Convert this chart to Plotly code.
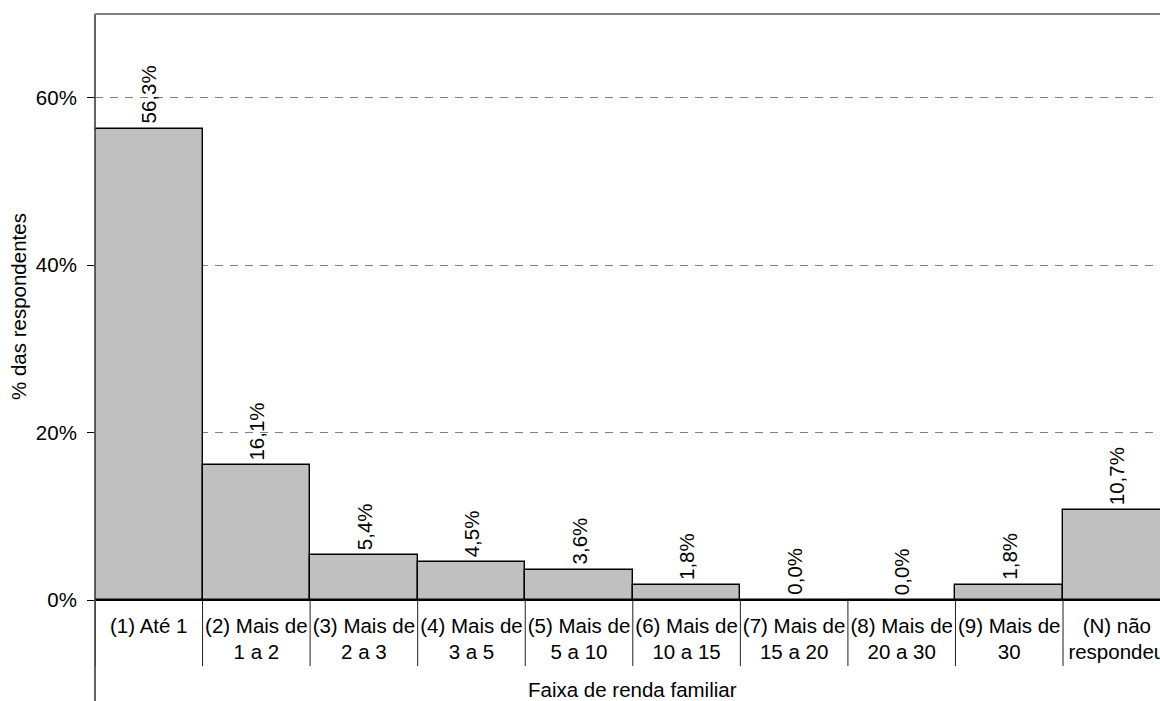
import plotly.graph_objects as go

# Family income brackets and share of respondents (%)
categories = [
    "(1) Até 1",
    "(2) Mais de<br>1 a 2",
    "(3) Mais de<br>2 a 3",
    "(4) Mais de<br>3 a 5",
    "(5) Mais de<br>5 a 10",
    "(6) Mais de<br>10 a 15",
    "(7) Mais de<br>15 a 20",
    "(8) Mais de<br>20 a 30",
    "(9) Mais de<br>30",
    "(N) não<br>respondeu",
]
shares = [56.3, 16.1, 5.4, 4.5, 3.6, 1.8, 0.0, 0.0, 1.8, 10.7]
y_ticks = [0, 20, 40, 60]
y_tick_text = ["0%", "20%", "40%", "60%"]

FONT = "Liberation Sans, Arial, sans-serif"
FS = 20.5
W, H = 1160, 701
ML, MT, MB = 95, 14, 101
plot_h = H - MT - MB
xpos = list(range(len(categories)))
step = 107.56  # pixel width of one category
x_hi = -0.5 + (W - ML) / step

fig = go.Figure(
    go.Bar(
        x=xpos,
        y=shares,
        marker=dict(color="#C0C0C0", line=dict(color="#000000", width=1.4)),
        width=1.0,
        hoverinfo="skip",
    )
)

# Rotated value labels above each bar
for xi, v in zip(xpos, shares):
    fig.add_annotation(
        x=xi, y=v, xref="x", yref="y",
        text=f"{v:.1f}%".replace(".", ","),
        textangle=-90, showarrow=False,
        xanchor="center", yanchor="bottom", yshift=3,
        font=dict(family=FONT, size=FS, color="#000000"),
    )

# Separators between category labels below the axis
for b in range(len(categories) + 1):
    fig.add_shape(
        type="line", xref="x", yref="paper",
        x0=b - 0.5, x1=b - 0.5, y0=0, y1=-66 / plot_h,
        line=dict(color="#202020", width=1),
    )

# Left axis line extending below the plot, and top border
fig.add_shape(type="line", xref="paper", yref="paper",
              x0=0, x1=0, y0=-MB / plot_h, y1=1,
              line=dict(color="#303030", width=1.5))
fig.add_shape(type="line", xref="paper", yref="paper",
              x0=0, x1=1, y0=1, y1=1,
              line=dict(color="#808080", width=2))

# Axis titles
fig.add_annotation(
    x=4.5, y=0, xref="x", yref="paper", yshift=-89,
    text="Faixa de renda familiar", showarrow=False,
    xanchor="center", yanchor="middle",
    font=dict(family=FONT, size=FS, color="#000000"),
)
fig.add_annotation(
    x=0, y=0.5, xref="paper", yref="paper", xshift=-77,
    text="% das respondentes", textangle=-90, showarrow=False,
    xanchor="center", yanchor="middle",
    font=dict(family=FONT, size=FS, color="#000000"),
)

fig.update_layout(
    width=W, height=H,
    margin=dict(l=ML, r=0, t=MT, b=MB, autoexpand=False),
    paper_bgcolor="#FFFFFF", plot_bgcolor="#FFFFFF",
    bargap=0, showlegend=False,
    font=dict(family=FONT, size=FS, color="#000000"),
    xaxis=dict(
        range=[-0.5, x_hi],
        tickmode="array", tickvals=xpos, ticktext=categories,
        showgrid=False, zeroline=False, showline=False,
        ticks="", ticklabelstandoff=11, ticklabeloverflow="allow",
        fixedrange=True,
    ),
    yaxis=dict(
        range=[0, 70],
        tickmode="array", tickvals=y_ticks, ticktext=y_tick_text,
        showgrid=True, gridcolor="#808080", gridwidth=1, griddash="8px,7px",
        zeroline=True, zerolinecolor="#000000", zerolinewidth=1.5,
        showline=False, ticks="outside", ticklen=7, tickcolor="#000000",
        ticklabelstandoff=6, fixedrange=True,
    ),
)

fig.write_html("out.html")
